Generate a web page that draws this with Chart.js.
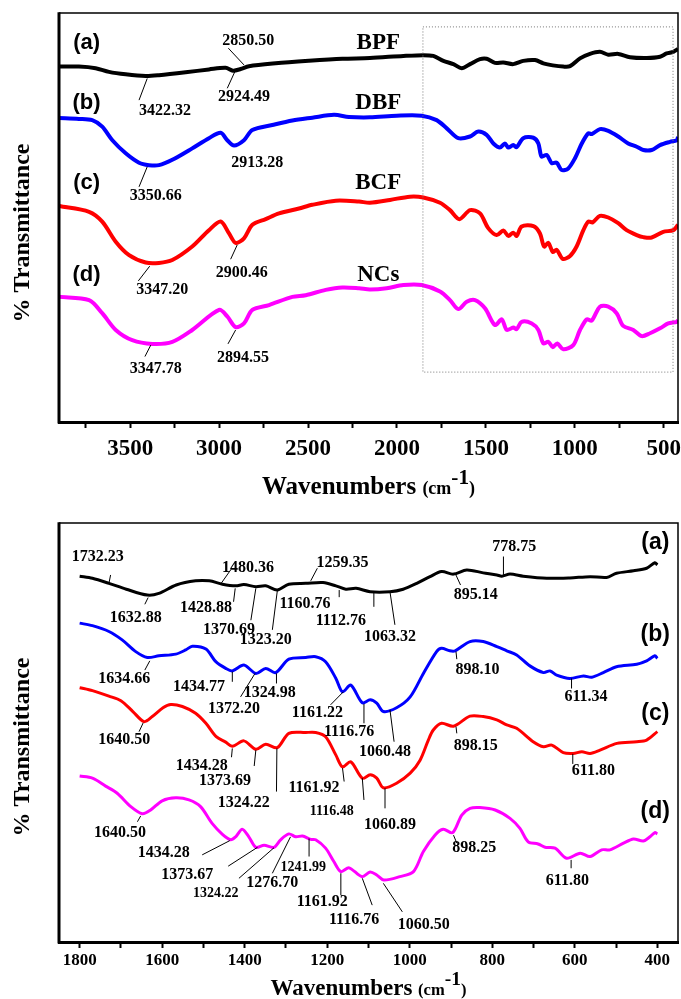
<!DOCTYPE html>
<html>
<head>
<meta charset="utf-8">
<script src="https://cdn.jsdelivr.net/npm/chart.js@4.4.1/dist/chart.umd.min.js"></script>
<style>
    html, body { margin: 0; padding: 0; background: #fff; }
    #wrap { width: 681px; height: 999px; position: relative; }
    .panel { position: absolute; left: 0; width: 681px; }
</style>
</head>
<body>
<div id="wrap">
    <div class="panel" style="top:0;height:500px"><canvas id="fullChart"></canvas></div>
    <div class="panel" style="top:500px;height:499px"><canvas id="zoomChart"></canvas></div>
</div>
<script>
// ---- full range spectra (wavenumber, %T) ----
const fullBPF = [[3900,86.9],[3788,86.9],[3694,86.5],[3619,85.6],[3525,85.0],[3413,84.6],[3338,84.8],[3188,85.5],[3057,86.2],[2963,86.6],[2922,85.9],[2879,86.3],[2832,87.0],[2682,87.7],[2495,88.3],[2307,88.8],[2152,89.0],[1964,89.5],[1852,89.7],[1796,89.5],[1739,88.3],[1683,87.5],[1636,86.5],[1589,87.5],[1533,88.7],[1496,88.8],[1449,87.8],[1402,87.9],[1346,87.5],[1290,88.3],[1224,88.5],[1177,87.7],[1124,87.2],[1065,86.9],[1027,87.0],[971,88.9],[915,90.0],[859,90.5],[812,89.8],[756,90.0],[690,89.2],[596,89.0],[521,89.3],[484,90.1],[446,90.5],[420,91.2]];
const fullDBF = [[3900,74.3],[3788,74.1],[3713,73.8],[3657,72.2],[3600,68.9],[3525,65.7],[3450,63.4],[3394,62.8],[3338,62.8],[3263,64.1],[3151,66.9],[3057,69.4],[2991,70.7],[2954,68.9],[2916,67.6],[2860,68.9],[2813,71.4],[2701,72.6],[2588,73.7],[2476,74.4],[2354,75.1],[2270,74.6],[2152,74.5],[2001,74.9],[1861,74.9],[1777,73.8],[1720,71.8],[1655,69.4],[1589,69.8],[1543,71.0],[1496,70.2],[1458,68.1],[1421,67.1],[1393,68.1],[1374,67.1],[1346,67.7],[1327,67.2],[1290,69.4],[1233,69.5],[1205,68.1],[1187,64.9],[1158,65.3],[1130,63.3],[1102,63.4],[1074,61.6],[1037,62.0],[999,64.5],[961,68.1],[924,70.6],[905,70.4],[859,71.6],[812,71.2],[756,69.8],[700,68.1],[652,67.3],[615,66.5],[568,66.5],[521,67.7],[465,68.5],[427,68.9],[420,69.7]];
const fullBCF = [[3900,52.8],[3731,51.4],[3657,49.0],[3581,44.1],[3506,40.8],[3413,39.0],[3338,38.9],[3263,39.6],[3151,42.9],[3057,46.9],[2991,49.0],[2944,46.1],[2907,43.8],[2860,44.9],[2813,48.2],[2738,49.6],[2663,51.0],[2551,52.2],[2476,53.1],[2344,54.1],[2213,53.9],[2152,53.6],[2039,54.3],[1927,55.1],[1852,54.9],[1758,53.6],[1702,51.8],[1649,49.6],[1589,51.8],[1533,51.0],[1487,47.4],[1439,45.7],[1402,46.8],[1374,45.5],[1346,46.3],[1327,45.5],[1299,47.8],[1233,47.9],[1196,46.1],[1173,42.9],[1149,43.8],[1124,41.6],[1102,42.1],[1068,39.9],[1027,40.6],[990,42.9],[952,46.9],[924,49.0],[900,48.8],[859,50.4],[812,50.0],[756,48.6],[709,46.9],[652,45.7],[615,45.2],[568,45.1],[503,46.5],[446,46.9],[420,48.2]];
const fullNCs = [[3900,30.6],[3731,29.8],[3657,26.6],[3581,22.5],[3488,20.0],[3375,19.1],[3263,19.6],[3151,22.5],[3000,27.4],[2954,25.8],[2907,23.2],[2860,24.1],[2813,27.4],[2719,28.6],[2588,30.6],[2513,31.0],[2401,32.3],[2307,32.9],[2213,32.7],[2152,32.4],[2058,32.7],[1964,33.5],[1861,33.5],[1758,31.9],[1702,29.8],[1655,27.6],[1608,29.4],[1561,29.8],[1505,27.8],[1449,23.7],[1411,25.1],[1383,22.5],[1346,23.1],[1327,22.7],[1299,24.5],[1242,24.1],[1205,22.5],[1177,19.2],[1149,19.6],[1124,18.3],[1099,19.2],[1065,17.8],[1009,18.8],[971,22.5],[933,25.1],[905,24.8],[859,28.2],[812,28.2],[765,26.6],[728,23.5],[671,22.5],[624,21.0],[577,21.7],[521,22.9],[475,24.1],[427,24.5],[420,24.9]];

// ---- fingerprint region spectra ----
const zoomBPF = [[1800,87.3],[1769,86.8],[1729,85.6],[1687,84.2],[1636,82.8],[1608,83.2],[1566,85.2],[1519,86.2],[1486,86.2],[1454,85.4],[1422,85.0],[1402,85.3],[1373,84.8],[1349,85.0],[1321,84.0],[1293,85.4],[1252,85.6],[1210,85.8],[1179,85.0],[1155,84.2],[1130,84.4],[1096,83.6],[1048,83.6],[1016,84.2],[983,85.6],[951,87.2],[923,88.4],[894,87.8],[862,88.8],[822,88.1],[789,87.6],[777,87.3],[757,87.8],[725,87.3],[668,86.8],[612,86.9],[563,87.2],[523,87.0],[499,88.0],[458,88.6],[426,89.2],[406,90.5],[400,90.0]];
const zoomDBF = [[1800,76.1],[1769,75.5],[1729,74.1],[1697,72.1],[1664,69.3],[1636,67.9],[1608,68.3],[1567,68.7],[1543,69.7],[1527,70.6],[1494,69.9],[1470,66.9],[1446,65.3],[1430,64.7],[1402,66.1],[1373,64.1],[1349,65.3],[1325,64.3],[1293,67.5],[1252,67.9],[1228,68.1],[1204,66.9],[1179,62.9],[1163,59.7],[1143,61.3],[1115,57.1],[1096,57.8],[1080,57.0],[1064,55.0],[1032,55.9],[999,58.5],[967,64.1],[935,69.3],[923,70.1],[903,69.5],[890,69.5],[854,71.7],[822,71.7],[789,70.5],[765,69.5],[741,68.5],[709,65.9],[676,64.3],[660,64.7],[644,63.7],[612,62.9],[579,63.5],[559,63.2],[531,64.3],[499,65.7],[450,66.3],[426,67.1],[406,68.3],[400,67.7]];
const zoomBCF = [[1800,60.7],[1769,60.0],[1729,58.7],[1700,57.6],[1671,55.0],[1644,52.6],[1624,53.8],[1598,55.9],[1579,56.7],[1551,56.2],[1519,54.6],[1494,52.2],[1469,49.0],[1446,47.7],[1430,46.7],[1402,48.0],[1373,46.0],[1349,47.2],[1321,46.4],[1293,49.8],[1252,50.0],[1228,50.0],[1204,49.0],[1179,44.6],[1163,41.8],[1143,43.0],[1115,39.1],[1096,39.9],[1080,39.1],[1064,36.8],[1032,37.9],[999,40.3],[975,43.4],[955,48.2],[943,50.6],[923,52.2],[894,51.5],[854,53.9],[822,53.8],[789,53.0],[765,51.8],[741,51.0],[701,47.8],[676,46.6],[656,47.0],[628,45.2],[604,45.0],[583,45.4],[563,45.0],[539,45.8],[498,47.4],[450,47.8],[426,48.2],[400,50.2]];
const zoomNCs = [[1800,39.6],[1769,39.1],[1737,37.2],[1709,35.5],[1676,32.3],[1648,30.6],[1628,31.5],[1600,33.7],[1567,34.4],[1535,33.9],[1507,32.3],[1479,28.3],[1454,25.7],[1434,24.4],[1422,25.1],[1406,26.9],[1390,25.1],[1373,22.6],[1353,23.1],[1329,22.6],[1313,24.4],[1293,25.8],[1276,25.1],[1260,25.3],[1240,24.5],[1228,24.4],[1204,22.4],[1184,19.2],[1167,16.8],[1147,17.7],[1116,15.6],[1096,16.7],[1080,16.0],[1063,14.8],[1024,15.6],[991,16.8],[967,21.6],[939,25.5],[919,26.9],[896,26.1],[874,30.3],[854,31.9],[830,32.1],[793,31.5],[757,29.5],[733,27.1],[713,23.9],[689,23.4],[672,22.6],[648,22.4],[620,20.0],[587,21.2],[563,20.4],[535,22.0],[515,22.0],[482,23.6],[458,24.6],[434,24.1],[418,25.1],[406,26.1],[400,25.8]];

// ---- axis ticks ----
const fullMajor = [500, 1000, 1500, 2000, 2500, 3000, 3500];
const fullMinor = [750, 1250, 1750, 2250, 2750, 3250, 3750];
const zoomMajor = [400, 600, 800, 1000, 1200, 1400, 1600, 1800];
const zoomMinor = [500, 700, 900, 1100, 1300, 1500, 1700];

// ---- peak labels: text, wavenumber, %T, font size ----
const fullLabels = [
    ['2850.50', 2836, 93.2, 16], ['3422.32', 3304, 76.1, 16], ['2924.49', 2860, 79.4, 16],
    ['2913.28', 2785, 63.4, 16], ['3350.66', 3356, 55.3, 16], ['2900.46', 2873, 36.4, 16],
    ['3347.20', 3319, 32.3, 16], ['2894.55', 2866, 15.8, 16], ['3347.78', 3356, 13.0, 16]
];
const fullLeaders = [
    [2948, 91.4, 2860, 87.3], [3404, 84.0, 3450, 78.7], [2912, 85.6, 2954, 81.6],
    [3404, 62.4, 3450, 57.5], [2898, 43.3, 2935, 39.8], [3390, 38.1, 3454, 34.5],
    [2907, 22.5, 2950, 19.1], [3384, 18.8, 3417, 16.0]
];
const fullNames = [['(a)', 'BPF', 92.7], ['(b)', 'DBF', 78.0], ['(c)', 'BCF', 58.4], ['(d)', 'NCs', 36.0]];

const zoomLabels = [
    ['1732.23', 1756, 92.0, 16], ['778.75', 747, 94.3, 16], ['1480.36', 1392, 89.4, 16],
    ['1259.35', 1163, 90.4, 16], ['1632.88', 1664, 77.3, 16], ['1428.88', 1494, 79.8, 16],
    ['1370.69', 1438, 74.6, 16], ['1323.20', 1349, 72.1, 16], ['1160.76', 1254, 80.8, 16],
    ['1112.76', 1167, 76.7, 16], ['1063.32', 1048, 72.9, 16], ['895.14', 840, 82.8, 16],
    ['1634.66', 1692, 62.9, 16], ['1434.77', 1511, 60.8, 16], ['1372.20', 1426, 55.6, 16],
    ['1324.98', 1339, 59.5, 16], ['1161.22', 1224, 54.6, 16], ['1116.76', 1147, 50.2, 16],
    ['1060.48', 1060, 45.4, 16], ['898.10', 836, 64.9, 16], ['611.34', 573, 58.4, 16],
    ['1640.50', 1692, 48.2, 16], ['898.15', 840, 46.8, 16], ['1434.28', 1504, 42.0, 16],
    ['1373.69', 1448, 38.4, 16], ['1324.22', 1402, 33.2, 16], ['1161.92', 1232, 36.7, 16],
    ['1116.48', 1189, 31.1, 14], ['1060.89', 1048, 27.9, 16], ['611.80', 555, 40.9, 16],
    ['1640.50', 1702, 26.1, 16], ['1434.28', 1596, 21.2, 16], ['1373.67', 1539, 16.0, 16],
    ['1324.22', 1470, 11.6, 14], ['1276.70', 1333, 14.0, 16], ['1241.99', 1258, 17.8, 14],
    ['1161.92', 1212, 9.5, 16], ['1116.76', 1135, 5.3, 16], ['1060.50', 966, 4.2, 16],
    ['898.25', 844, 22.4, 16], ['611.80', 618, 14.6, 16]
];
const zoomLeaders = [
    [1725, 87.6, 1729, 85.6], [773, 92.0, 773, 87.6], [1434, 88.8, 1457, 85.6],
    [1224, 89.2, 1240, 86.2], [1634, 82.2, 1642, 80.6], [1423, 84.4, 1427, 81.2],
    [1373, 84.4, 1385, 76.8], [1321, 83.8, 1333, 74.5], [1171, 84.0, 1171, 82.3],
    [1087, 83.6, 1087, 80.0], [1048, 83.6, 1036, 75.7], [890, 88.0, 877, 85.2],
    [1630, 67.1, 1642, 64.9], [1430, 64.5, 1430, 62.1], [1375, 64.1, 1410, 58.5],
    [1323, 64.1, 1323, 61.7], [1161, 59.7, 1192, 56.6], [1111, 56.8, 1111, 52.2],
    [1048, 55.4, 1038, 47.8], [888, 69.3, 886, 67.5], [608, 62.9, 608, 60.5],
    [1646, 52.3, 1656, 50.2], [888, 51.4, 886, 49.8], [1430, 46.2, 1432, 44.1],
    [1373, 45.8, 1377, 42.0], [1322, 46.2, 1323, 35.9], [1163, 41.5, 1159, 38.3],
    [1115, 39.1, 1111, 33.9], [1060, 36.7, 1060, 31.9], [605, 44.9, 605, 42.5],
    [1652, 30.1, 1660, 28.7], [1503, 20.8, 1436, 24.2], [1440, 18.1, 1369, 22.6],
    [1414, 15.2, 1329, 22.5], [1333, 16.4, 1289, 25.1], [1244, 20.4, 1244, 24.7],
    [1167, 16.4, 1167, 11.2], [1115, 15.2, 1091, 8.8], [1064, 14.0, 1018, 7.2],
    [894, 25.5, 886, 23.6], [609, 19.6, 609, 17.6]
];
const zoomNames = [['(a)', 95.2], ['(b)', 73.3], ['(c)', 54.4], ['(d)', 31.1]];

const SERIF = '"Liberation Serif", "Times New Roman", serif';
const SANS = '"Liberation Sans", Arial, sans-serif';
const COLORS = ['#000000', '#0000ff', '#ff0000', '#ff00ff'];

const toXY = arr => arr.map(p => ({ x: p[0], y: p[1] }));

// frame, labels, leaders and axis titles
const decorPlugin = {
    id: 'decor',
    afterDatasetsDraw(chart, args, o) {
        const { ctx, chartArea: a, scales: { x, y } } = chart;
        ctx.save();

        if (o.region) {
            const [w1, t1, w2, t2] = o.region;
            ctx.strokeStyle = '#777';
            ctx.lineWidth = 1;
            ctx.setLineDash([1, 2]);
            ctx.strokeRect(x.getPixelForValue(w1), y.getPixelForValue(t1),
                x.getPixelForValue(w2) - x.getPixelForValue(w1),
                y.getPixelForValue(t2) - y.getPixelForValue(t1));
            ctx.setLineDash([]);
        }

        ctx.strokeStyle = '#000';
        ctx.lineWidth = 1.5;
        ctx.beginPath();
        ctx.moveTo(a.left, a.top);
        ctx.lineTo(a.right, a.top);
        ctx.lineTo(a.right, a.bottom);
        ctx.stroke();
        ctx.lineWidth = 3;
        ctx.beginPath();
        ctx.moveTo(a.left, a.bottom + 1.5);
        ctx.lineTo(a.left, a.top - 0.75);
        ctx.stroke();

        ctx.lineWidth = 1;
        o.leaders.forEach(l => {
            ctx.beginPath();
            ctx.moveTo(x.getPixelForValue(l[0]), y.getPixelForValue(l[1]));
            ctx.lineTo(x.getPixelForValue(l[2]), y.getPixelForValue(l[3]));
            ctx.stroke();
        });

        ctx.fillStyle = '#000';
        ctx.textAlign = 'center';
        ctx.textBaseline = 'middle';
        o.labels.forEach(l => {
            ctx.font = `bold ${l[3]}px ${SERIF}`;
            ctx.fillText(l[0], x.getPixelForValue(l[1]), y.getPixelForValue(l[2]));
        });

        o.tags.forEach(t => {
            ctx.font = `bold ${t.size}px ${t.family}`;
            ctx.fillText(t.text, x.getPixelForValue(t.x), y.getPixelForValue(t.y));
        });

        // x title: Wavenumbers (cm-1)
        const parts = [
            ['Wavenumbers ', o.titleSize, 0],
            ['(cm', o.titleSize * 0.72, 0],
            ['-1', o.titleSize * 0.85, -o.titleSize * 0.42],
            [')', o.titleSize * 0.72, 0]
        ];
        let total = 0;
        parts.forEach(p => { ctx.font = `bold ${p[1]}px ${SERIF}`; total += ctx.measureText(p[0]).width; });
        let cx = (a.left + a.right) / 2 - total / 2;
        ctx.textAlign = 'left';
        ctx.textBaseline = 'alphabetic';
        parts.forEach(p => {
            ctx.font = `bold ${p[1]}px ${SERIF}`;
            ctx.fillText(p[0], cx, o.titleY + p[2]);
            cx += ctx.measureText(p[0]).width;
        });

        // y title
        ctx.translate(o.yTitleX, o.yTitleY);
        ctx.rotate(-Math.PI / 2);
        ctx.textAlign = 'center';
        ctx.textBaseline = 'middle';
        ctx.font = `bold 24px ${SERIF}`;
        ctx.fillText('% Transmittance', 0, 0);
        ctx.restore();
    }
};

function xAxis(min, max, major, minor, fontSize, height, pad) {
    return {
        type: 'linear',
        reverse: true,
        min: min,
        max: max,
        afterBuildTicks: s => {
            s.ticks = major.concat(minor).sort((p, q) => p - q).map(v => ({ value: v }));
        },
        afterFit: s => { s.height = height; },
        grid: { drawOnChartArea: false, drawTicks: true, tickLength: 6, tickWidth: 2, tickColor: '#000' },
        border: { display: true, color: '#000', width: 3 },
        ticks: {
            autoSkip: false,
            maxRotation: 0,
            padding: pad,
            color: '#000',
            font: { family: SERIF, size: fontSize, weight: 'bold' },
            callback: v => major.includes(v) ? String(v) : ''
        }
    };
}

function lineSets(series, width) {
    return series.map((s, i) => ({
        data: toXY(s),
        borderColor: COLORS[i],
        borderWidth: width,
        pointRadius: 0,
        tension: 0.3,
        fill: false
    }));
}

const baseOptions = {
    responsive: true,
    maintainAspectRatio: false,
    animation: false,
    events: [],
    plugins: { legend: { display: false }, tooltip: { enabled: false } }
};

new Chart(document.getElementById('fullChart'), {
    type: 'line',
    data: { datasets: lineSets([fullBPF, fullDBF, fullBCF, fullNCs], 4) },
    plugins: [decorPlugin],
    options: {
        ...baseOptions,
        layout: { padding: { left: 59, right: 3, top: 13, bottom: 0 } },
        scales: {
            x: xAxis(420, 3900, fullMajor, fullMinor, 23, 78, 7),
            y: { display: false, min: 0, max: 100 }
        },
        plugins: {
            ...baseOptions.plugins,
            decor: {
                region: [1854, 96.6, 448, 12.2],
                labels: fullLabels,
                leaders: fullLeaders,
                tags: fullNames.flatMap(n => [
                    { text: n[0], x: 3745, y: n[2], size: 22, family: SANS },
                    { text: n[1], x: 2105, y: n[2], size: 23, family: SERIF }
                ]),
                titleSize: 25,
                titleY: 494,
                yTitleX: 23,
                yTitleY: 233
            }
        }
    }
});

new Chart(document.getElementById('zoomChart'), {
    type: 'line',
    data: { datasets: lineSets([zoomBPF, zoomDBF, zoomBCF, zoomNCs], 3) },
    plugins: [decorPlugin],
    options: {
        ...baseOptions,
        layout: { padding: { left: 59, right: 3, top: 23, bottom: 0 } },
        scales: {
            x: xAxis(350, 1850, zoomMajor, zoomMinor, 17, 57, 2),
            y: { display: false, min: 0, max: 100 }
        },
        plugins: {
            ...baseOptions.plugins,
            decor: {
                labels: zoomLabels,
                leaders: zoomLeaders,
                tags: zoomNames.map(n => ({ text: n[0], x: 405, y: n[1], size: 23, family: SANS })),
                titleSize: 23,
                titleY: 495,
                yTitleX: 23,
                yTitleY: 247
            }
        }
    }
});
</script>
</body>
</html>
